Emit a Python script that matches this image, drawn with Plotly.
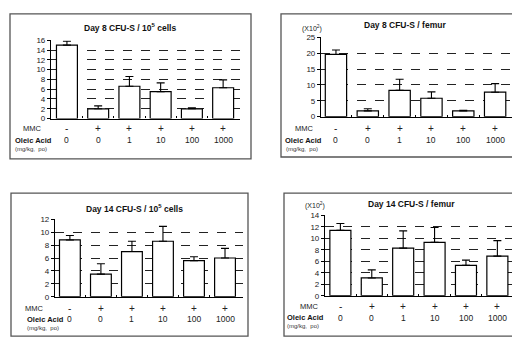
import plotly.graph_objects as go

W, H = 520, 337

# ---- data ----
mmc_signs = ["-", "+", "+", "+", "+", "+"]
oleic_doses = ["0", "0", "1", "10", "100", "1000"]

d8_cells_vals = [15.0, 2.0, 6.6, 5.5, 2.0, 6.3]
d8_cells_err = [0.8, 0.6, 2.0, 1.8, 0.2, 1.6]

d8_femur_vals = [19.6, 1.8, 8.3, 5.8, 1.8, 7.7]
d8_femur_err = [1.4, 0.7, 3.5, 2.0, 0.2, 2.7]

d14_cells_vals = [8.8, 3.5, 7.0, 8.6, 5.6, 6.0]
d14_cells_err = [0.7, 1.6, 1.6, 2.3, 0.6, 1.5]

d14_femur_vals = [11.4, 3.1, 8.3, 9.3, 5.3, 6.9]
d14_femur_err = [1.2, 1.4, 3.0, 2.6, 0.9, 2.7]

titles = ["<b>Day 8 CFU-S / 10<sup>5</sup> cells</b>",
          "<b>Day 8 CFU-S / femur</b>",
          "<b>Day 14 CFU-S / 10<sup>5</sup> cells</b>",
          "<b>Day 14 CFU-S / femur</b>"]
ytick_sets = [list(range(0, 17, 2)), list(range(0, 26, 5)),
              list(range(0, 13, 2)), list(range(0, 15, 2))]
yranges = [[0, 16], [0, 25], [0, 12], [0, 14]]

# ---- layout geometry (pixels) ----
panels = [
    dict(vals=d8_cells_vals, err=d8_cells_err, L=43, R=232, T=29, B=109.5,
         xr=[-0.51, 5.54], frame=(2, 2, 243, 151), title=(122, 16),
         mmc=(24, 120), oleic=(5, 132), mg=(5, 140.5), rows=(120, 132), x102=None),
    dict(vals=d8_femur_vals, err=d8_femur_err, L=313, R=504, T=26, B=107.5,
         xr=[-0.47, 5.53], frame=(273, 2, 518, 149), title=(397, 13),
         mmc=(296, 120), oleic=(275, 132), mg=(276, 140.5), rows=(120, 132), x102=(304, 17)),
    dict(vals=d14_cells_vals, err=d14_cells_err, L=47, R=235, T=213, B=292.5,
         xr=[-0.48, 5.58], frame=(3, 186, 240, 333), title=(126, 202),
         mmc=(26, 305), oleic=(17, 315.5), mg=(17, 324.5), rows=(305, 315.5), x102=None),
    dict(vals=d14_femur_vals, err=d14_femur_err, L=317, R=517, T=209, B=291.5,
         xr=[-0.49, 5.88], frame=(276, 186, 518, 333), title=(403, 197),
         mmc=(301, 303), oleic=(277, 314), mg=(277, 323), rows=(303, 314), x102=(307, 198.5)),
]

FONT = "Liberation Sans, Arial, sans-serif"
fig = go.Figure()
annotations = []
shapes = []
layout_axes = {}

for i, p in enumerate(panels):
    n = "" if i == 0 else str(i + 1)
    xa, ya = "x" + n, "y" + n
    fig.add_trace(go.Bar(
        x=list(range(len(p["vals"]))), y=p["vals"], xaxis=xa, yaxis=ya,
        width=0.67, marker=dict(color="white", line=dict(color="black", width=1.2)),
        error_y=dict(type="data", array=p["err"], arrayminus=[0] * len(p["err"]),
                     symmetric=False, color="black", thickness=1.1, width=4),
        showlegend=False, hoverinfo="skip"))
    layout_axes["xaxis" + n] = dict(
        domain=[p["L"] / W, p["R"] / W], range=p["xr"], anchor=ya,
        showline=True, linecolor="black", linewidth=1.2,
        tickvals=[k + 0.5 for k in range(5)], ticks="inside", ticklen=2,
        tickcolor="black", showticklabels=False, showgrid=False, zeroline=False,
        fixedrange=True)
    yr = yranges[i]
    layout_axes["yaxis" + n] = dict(
        domain=[1 - p["B"] / H, 1 - p["T"] / H], range=yr, anchor=xa,
        showline=True, linecolor="black", linewidth=1.2,
        tickvals=ytick_sets[i], ticks="outside", ticklen=3, tickcolor="black",
        tickfont=dict(family=FONT, size=8, color="#222"),
        showgrid=True, gridcolor="#222", griddash="dash", gridwidth=1,
        zeroline=False, fixedrange=True)
    # frame
    fx0, fy0, fx1, fy1 = p["frame"]
    shapes.append(dict(type="rect", xref="paper", yref="paper",
                       x0=fx0 / W, x1=fx1 / W, y0=1 - fy1 / H, y1=1 - fy0 / H,
                       line=dict(color="#555", width=1.3), fillcolor="rgba(0,0,0,0)"))
    # title
    tx, ty = p["title"]
    annotations.append(dict(text=titles[i], xref="paper", yref="paper",
                            x=tx / W, y=1 - ty / H, xanchor="center", yanchor="middle",
                            showarrow=False, font=dict(family=FONT, size=8.5, color="#111")))
    if p["x102"]:
        qx, qy = p["x102"]
        annotations.append(dict(text="(X10<sup>2</sup>)", xref="paper", yref="paper",
                                x=qx / W, y=1 - qy / H, xanchor="center", yanchor="middle",
                                showarrow=False, font=dict(family=FONT, size=7, color="#222")))
    # row labels
    mx, my = p["mmc"]
    annotations.append(dict(text="MMC", xref="paper", yref="paper", x=mx / W, y=1 - my / H,
                            xanchor="center", yanchor="middle", showarrow=False,
                            font=dict(family=FONT, size=7.5, color="#222")))
    ox, oy = p["oleic"]
    annotations.append(dict(text="<b>Oleic Acid</b>", xref="paper", yref="paper",
                            x=ox / W, y=1 - oy / H, xanchor="left", yanchor="middle",
                            showarrow=False, font=dict(family=FONT, size=7.5, color="#111")))
    gx, gy = p["mg"]
    annotations.append(dict(text="(mg/kg,  po)", xref="paper", yref="paper",
                            x=gx / W, y=1 - gy / H, xanchor="left", yanchor="middle",
                            showarrow=False, font=dict(family=FONT, size=6, color="#333")))
    r1, r2 = p["rows"]
    for k in range(len(mmc_signs)):
        annotations.append(dict(text=mmc_signs[k], xref=xa, yref="paper", x=k, y=1 - r1 / H,
                                xanchor="center", yanchor="middle", showarrow=False,
                                font=dict(family=FONT, size=10, color="#222")))
        annotations.append(dict(text=oleic_doses[k], xref=xa, yref="paper", x=k, y=1 - r2 / H,
                                xanchor="center", yanchor="middle", showarrow=False,
                                font=dict(family=FONT, size=8.5, color="#222")))

fig.update_layout(width=W, height=H, margin=dict(l=0, r=0, t=0, b=0),
                  paper_bgcolor="white", plot_bgcolor="white",
                  annotations=annotations, shapes=shapes, bargap=0.3,
                  **layout_axes)

fig.write_html("out.html")
